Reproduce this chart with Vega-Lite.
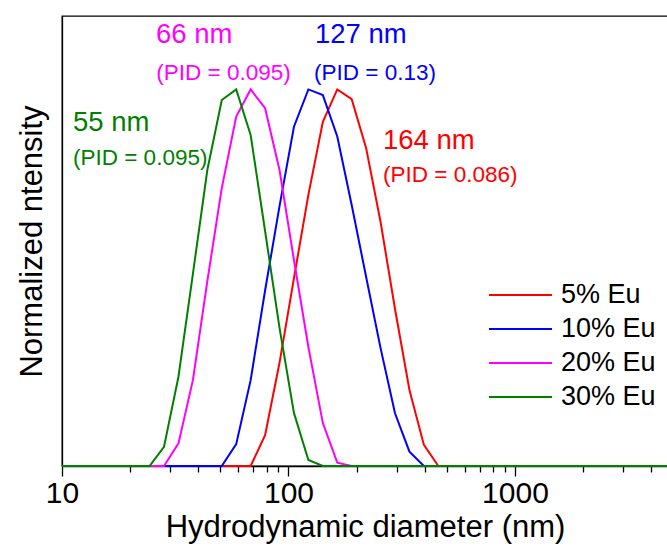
{
  "$schema": "https://vega.github.io/schema/vega-lite/v6.json",
  "width": 606,
  "height": 450,
  "autosize": {"type": "none"},
  "padding": {"left": 62, "top": 16, "right": 0, "bottom": 81},
  "background": "white",
  "config": {
    "font": "Liberation Sans",
    "view": {"stroke": "black", "strokeWidth": 1.3},
    "axis": {"grid": false}
  },
  "datasets": {
    "curves": [
      {"series": "5% Eu", "d": 10, "v": 0},
      {"series": "5% Eu", "d": 68.06, "v": 0},
      {"series": "5% Eu", "d": 78.82, "v": 0.082},
      {"series": "5% Eu", "d": 91.28, "v": 0.274},
      {"series": "5% Eu", "d": 105.7, "v": 0.499},
      {"series": "5% Eu", "d": 122.4, "v": 0.72},
      {"series": "5% Eu", "d": 141.8, "v": 0.914},
      {"series": "5% Eu", "d": 164.2, "v": 1.0},
      {"series": "5% Eu", "d": 190.1, "v": 0.974},
      {"series": "5% Eu", "d": 220.2, "v": 0.844},
      {"series": "5% Eu", "d": 255.0, "v": 0.648},
      {"series": "5% Eu", "d": 295.3, "v": 0.417},
      {"series": "5% Eu", "d": 342.0, "v": 0.202},
      {"series": "5% Eu", "d": 396.1, "v": 0.056},
      {"series": "5% Eu", "d": 458.7, "v": 0},
      {"series": "5% Eu", "d": 4738, "v": 0},
      {"series": "10% Eu", "d": 10, "v": 0},
      {"series": "10% Eu", "d": 50.75, "v": 0},
      {"series": "10% Eu", "d": 58.77, "v": 0.058},
      {"series": "10% Eu", "d": 68.06, "v": 0.228},
      {"series": "10% Eu", "d": 78.82, "v": 0.466},
      {"series": "10% Eu", "d": 91.28, "v": 0.69},
      {"series": "10% Eu", "d": 105.7, "v": 0.901},
      {"series": "10% Eu", "d": 122.4, "v": 1.0},
      {"series": "10% Eu", "d": 141.8, "v": 0.985},
      {"series": "10% Eu", "d": 164.2, "v": 0.875},
      {"series": "10% Eu", "d": 190.1, "v": 0.693},
      {"series": "10% Eu", "d": 220.2, "v": 0.502},
      {"series": "10% Eu", "d": 255.0, "v": 0.313},
      {"series": "10% Eu", "d": 295.3, "v": 0.14},
      {"series": "10% Eu", "d": 342.0, "v": 0.038},
      {"series": "10% Eu", "d": 396.1, "v": 0},
      {"series": "10% Eu", "d": 4738, "v": 0},
      {"series": "20% Eu", "d": 10, "v": 0},
      {"series": "20% Eu", "d": 28.21, "v": 0},
      {"series": "20% Eu", "d": 32.67, "v": 0.06},
      {"series": "20% Eu", "d": 37.84, "v": 0.228},
      {"series": "20% Eu", "d": 43.82, "v": 0.491},
      {"series": "20% Eu", "d": 50.75, "v": 0.738},
      {"series": "20% Eu", "d": 58.77, "v": 0.928},
      {"series": "20% Eu", "d": 68.06, "v": 1.0},
      {"series": "20% Eu", "d": 78.82, "v": 0.95},
      {"series": "20% Eu", "d": 91.28, "v": 0.786},
      {"series": "20% Eu", "d": 105.7, "v": 0.547},
      {"series": "20% Eu", "d": 122.4, "v": 0.316},
      {"series": "20% Eu", "d": 141.8, "v": 0.114},
      {"series": "20% Eu", "d": 164.2, "v": 0.009},
      {"series": "20% Eu", "d": 190.1, "v": 0},
      {"series": "20% Eu", "d": 4738, "v": 0},
      {"series": "30% Eu", "d": 10, "v": 0},
      {"series": "30% Eu", "d": 24.36, "v": 0},
      {"series": "30% Eu", "d": 28.21, "v": 0.051},
      {"series": "30% Eu", "d": 32.67, "v": 0.237},
      {"series": "30% Eu", "d": 37.84, "v": 0.51},
      {"series": "30% Eu", "d": 43.82, "v": 0.786},
      {"series": "30% Eu", "d": 50.75, "v": 0.972},
      {"series": "30% Eu", "d": 58.77, "v": 1.0},
      {"series": "30% Eu", "d": 68.06, "v": 0.879},
      {"series": "30% Eu", "d": 78.82, "v": 0.624},
      {"series": "30% Eu", "d": 91.28, "v": 0.367},
      {"series": "30% Eu", "d": 105.7, "v": 0.141},
      {"series": "30% Eu", "d": 122.4, "v": 0.016},
      {"series": "30% Eu", "d": 141.8, "v": 0},
      {"series": "30% Eu", "d": 4738, "v": 0}
    ],
    "labels": [
      {"series": "20% Eu", "kind": "size", "label": "66 nm", "d": 26.0, "v": 1.145},
      {"series": "20% Eu", "kind": "pid", "label": "(PID = 0.095)", "d": 26.1, "v": 1.044},
      {"series": "10% Eu", "kind": "size", "label": "127 nm", "d": 130.9, "v": 1.145},
      {"series": "10% Eu", "kind": "pid", "label": "(PID = 0.13)", "d": 129.6, "v": 1.044},
      {"series": "30% Eu", "kind": "size", "label": "55 nm", "d": 11.18, "v": 0.911},
      {"series": "30% Eu", "kind": "pid", "label": "(PID = 0.095)", "d": 11.18, "v": 0.817},
      {"series": "5% Eu", "kind": "size", "label": "164 nm", "d": 261.4, "v": 0.863},
      {"series": "5% Eu", "kind": "pid", "label": "(PID = 0.086)", "d": 261.4, "v": 0.773}
    ]
  },
  "layer": [
    {
      "data": {"name": "curves"},
      "mark": {"type": "line", "strokeWidth": 2},
      "encoding": {
        "x": {
          "field": "d",
          "type": "quantitative",
          "scale": {"type": "log", "domain": [10, 4738], "nice": false},
          "axis": {
            "values": [10, 20, 30, 40, 50, 60, 70, 80, 90, 100, 200, 300, 400, 500, 600, 700, 800, 900, 1000, 2000, 3000, 4000],
            "labelExpr": "(datum.value == 10 || datum.value == 100 || datum.value == 1000) ? format(datum.value, 'd') : ''",
            "tickSize": {"condition": {"test": "datum.value == 10 || datum.value == 100 || datum.value == 1000", "value": 10}, "value": 6},
            "tickColor": "black",
            "tickWidth": 1.3,
            "domainColor": "black",
            "domainWidth": 1.3,
            "labelFontSize": 30,
            "labelColor": "black",
            "labelPadding": 2,
            "labelOverlap": false,
            "labelFlush": false,
            "title": "Hydrodynamic diameter (nm)",
            "titleFontSize": 31,
            "titleFontWeight": "normal",
            "titleColor": "black",
            "titlePadding": 4
          }
        },
        "y": {
          "field": "v",
          "type": "quantitative",
          "scale": {"domain": [0, 1.195], "nice": false},
          "axis": {
            "labels": false,
            "ticks": false,
            "domainColor": "black",
            "domainWidth": 1.3,
            "title": "Normalized ntensity",
            "titleFontSize": 31,
            "titleFontWeight": "normal",
            "titleColor": "black",
            "titlePadding": 14
          }
        },
        "color": {
          "field": "series",
          "type": "nominal",
          "scale": {"domain": ["5% Eu", "10% Eu", "20% Eu", "30% Eu"], "range": ["#ff0000", "#0000ff", "#ff00ff", "#008000"]},
          "legend": {
            "title": null,
            "orient": "none",
            "legendX": 426,
            "legendY": 265,
            "symbolType": "stroke",
            "symbolSize": 3969,
            "symbolStrokeWidth": 2,
            "labelFontSize": 27,
            "labelColor": "black",
            "labelOffset": 8,
            "labelLimit": 300,
            "clipHeight": 28,
            "rowPadding": 6,
            "padding": 0
          }
        }
      }
    },
    {
      "data": {"name": "labels"},
      "transform": [{"filter": "datum.kind == 'size'"}],
      "mark": {"type": "text", "align": "left", "baseline": "middle", "fontSize": 27.5},
      "encoding": {
        "x": {"field": "d", "type": "quantitative"},
        "y": {"field": "v", "type": "quantitative"},
        "text": {"field": "label"},
        "color": {"field": "series", "type": "nominal", "legend": null}
      }
    },
    {
      "data": {"name": "labels"},
      "transform": [{"filter": "datum.kind == 'pid'"}],
      "mark": {"type": "text", "align": "left", "baseline": "middle", "fontSize": 22.5},
      "encoding": {
        "x": {"field": "d", "type": "quantitative"},
        "y": {"field": "v", "type": "quantitative"},
        "text": {"field": "label"},
        "color": {"field": "series", "type": "nominal", "legend": null}
      }
    }
  ]
}
